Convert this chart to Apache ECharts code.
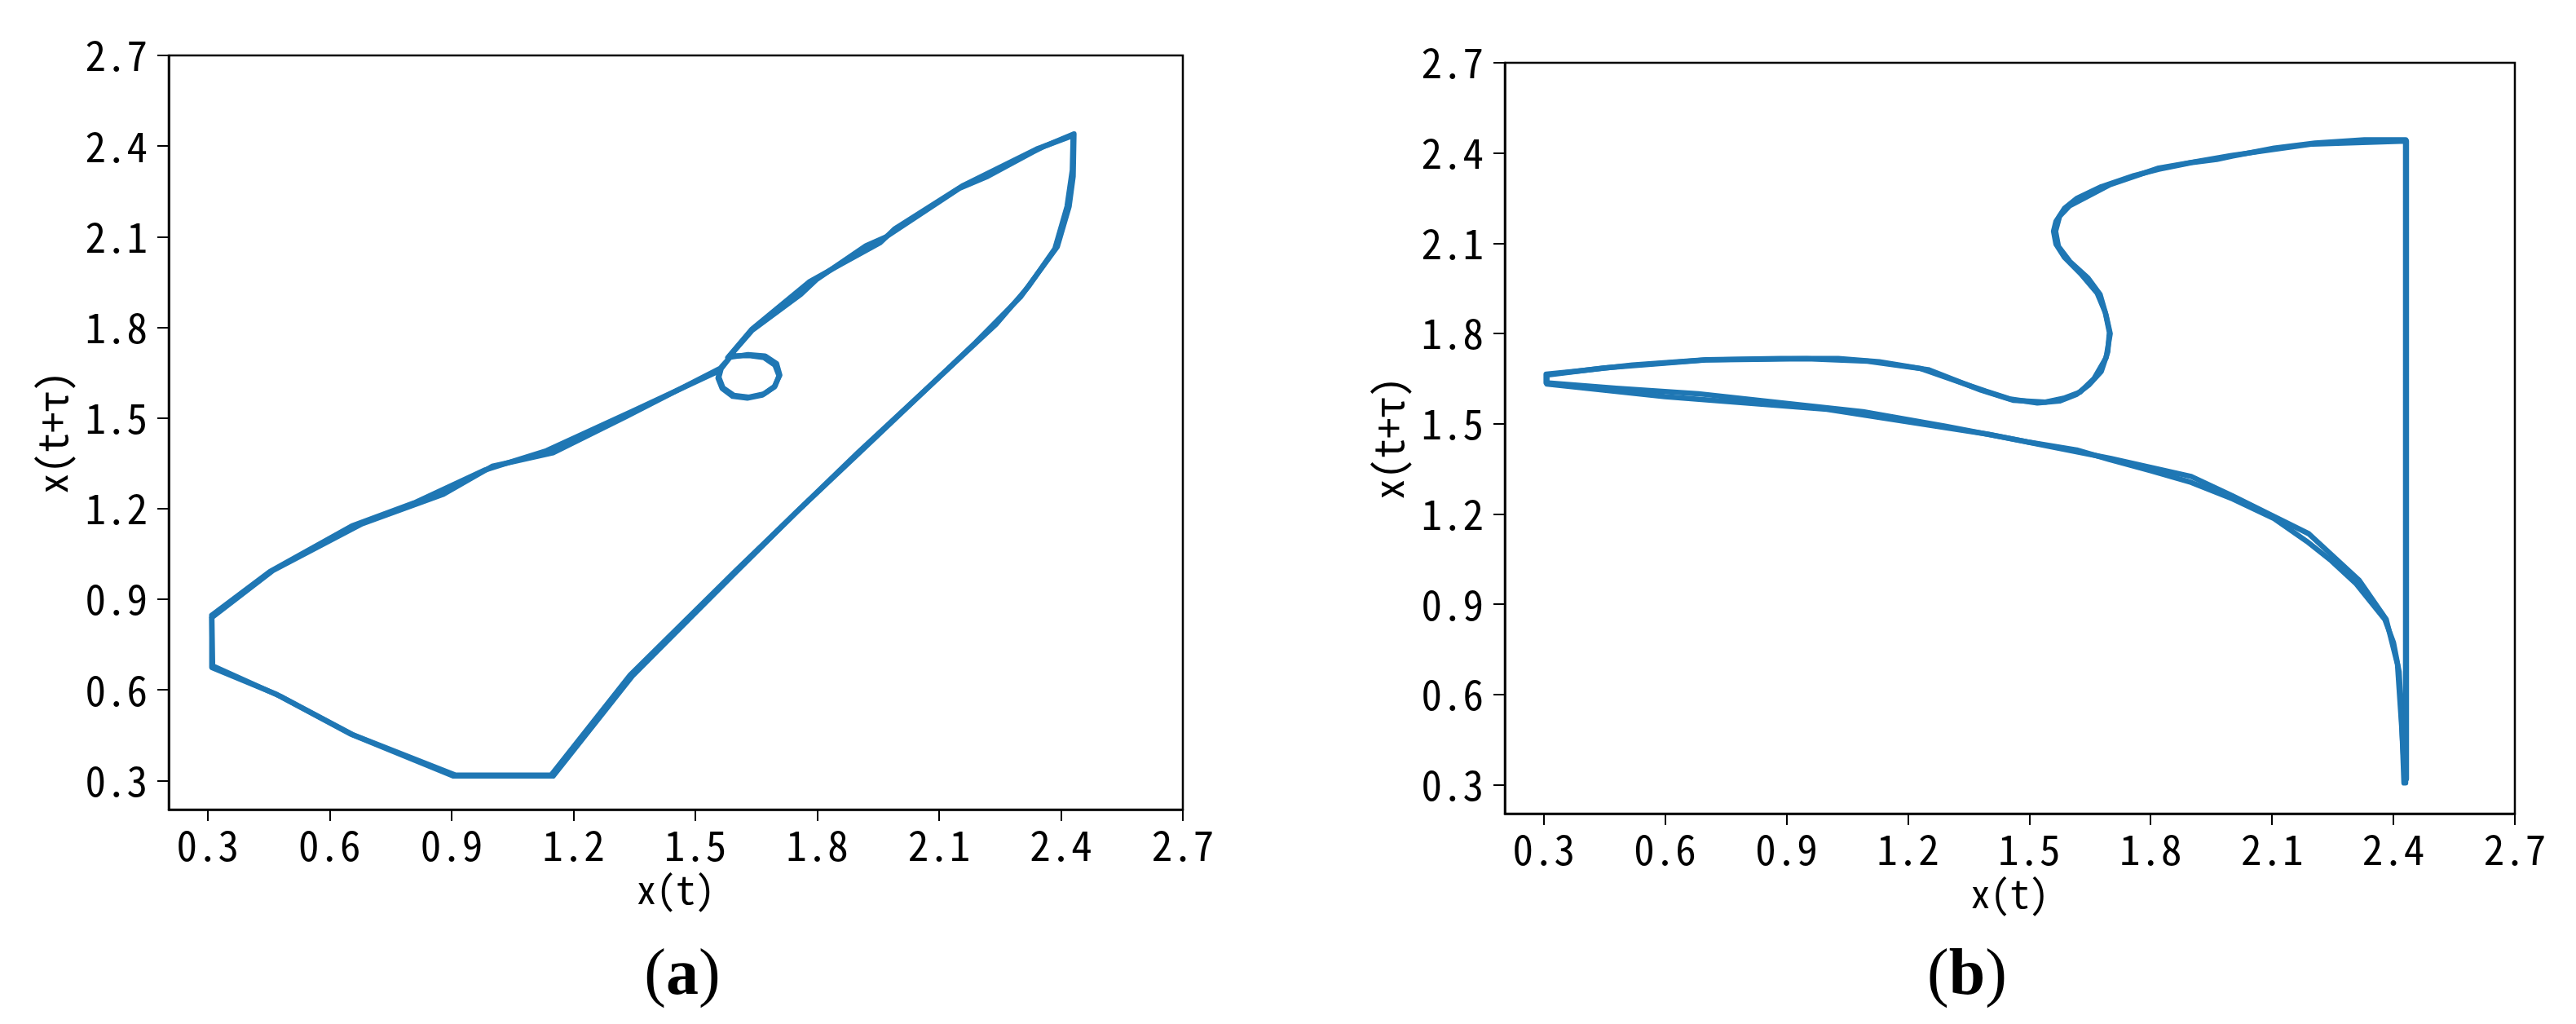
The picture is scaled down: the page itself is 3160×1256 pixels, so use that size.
<!DOCTYPE html>
<html>
<head>
<meta charset="utf-8">
<script src="https://cdn.jsdelivr.net/npm/echarts@6/dist/echarts.min.js"></script>
<style>
html,body{margin:0;padding:0;background:#fff;}
#chart{width:3160px;height:1256px;}
</style>
</head>
<body>
<div id="chart"></div>
<script>
// ---- tick labels / axis range ----
const tickValues = [0.3, 0.6, 0.9, 1.2, 1.5, 1.8, 2.1, 2.4, 2.7];
const axisMin = 0.204;
const axisMax = 2.7;
const xName = 'x(t)';
const yName = 'x(t+τ)';
const panelLabels = ['a', 'b'];

// ---- panel (a): trajectory, pass 1 ----
const aX1 = [0.310, 0.310, 0.470, 0.650, 0.904, 1.150, 1.345, 1.600, 1.750, 1.900, 2.190, 2.300, 2.391, 2.420, 2.430, 2.432,
             2.360, 2.330, 2.220, 2.150, 1.970, 1.920, 1.800, 1.760, 1.640, 1.585,
             1.632, 1.669, 1.696, 1.706, 1.696, 1.669, 1.632, 1.595, 1.568, 1.558, 1.565, 1.585, 1.560,
             1.345, 1.134, 0.980, 0.808, 0.655, 0.453, 0.310];
const aY1 = [0.847, 0.674, 0.585, 0.455, 0.315, 0.315, 0.646, 0.990, 1.190, 1.380, 1.750, 1.900, 2.067, 2.200, 2.300, 2.440,
             2.400, 2.380, 2.300, 2.260, 2.100, 2.070, 1.960, 1.910, 1.790, 1.705,
             1.707, 1.700, 1.675, 1.640, 1.605, 1.580, 1.569, 1.575, 1.600, 1.635, 1.670, 1.700, 1.657,
             1.522, 1.392, 1.327, 1.219, 1.143, 0.992, 0.847];
// ---- panel (a): trajectory, pass 2 ----
const aX2 = [0.310, 0.312, 0.480, 0.660, 0.910, 1.145, 1.340, 1.600, 1.900, 2.240, 2.320, 2.385, 2.415, 2.428, 2.430,
             2.340, 2.250, 2.160, 1.990, 1.955, 1.860, 1.780, 1.640, 1.580,
             1.630, 1.672, 1.700, 1.708, 1.694, 1.665, 1.628, 1.592, 1.566, 1.556, 1.562,
             1.330, 1.150, 1.000, 0.880, 0.680, 0.460, 0.310];
const aY2 = [0.840, 0.680, 0.578, 0.450, 0.318, 0.318, 0.650, 0.995, 1.385, 1.810, 1.935, 2.060, 2.200, 2.320, 2.435,
             2.390, 2.330, 2.270, 2.125, 2.080, 2.010, 1.950, 1.795, 1.700,
             1.710, 1.705, 1.680, 1.642, 1.602, 1.576, 1.566, 1.572, 1.598, 1.632, 1.665,
             1.505, 1.385, 1.340, 1.248, 1.150, 0.995, 0.840];

// ---- panel (b): trajectory, pass 1 ----
const bX1 = [2.430, 2.430, 2.328, 2.206, 2.105, 2.003, 1.963, 1.900, 1.820, 1.759, 1.678, 1.617, 1.587, 1.566, 1.560, 1.566,
             1.587, 1.627, 1.668, 1.688, 1.698, 1.694, 1.678, 1.648, 1.617, 1.576, 1.520, 1.454, 1.393, 1.322, 1.231,
             1.129, 1.028, 0.885, 0.702, 0.519, 0.377, 0.306, 0.306,
             0.479, 0.682, 0.885, 1.089, 1.292, 1.495, 1.617, 1.698, 1.800, 1.900, 2.003, 2.105, 2.186, 2.247, 2.308,
             2.379, 2.400, 2.414, 2.420, 2.426];
const bY1 = [0.306, 2.444, 2.444, 2.433, 2.416, 2.390, 2.379, 2.368, 2.346, 2.325, 2.288, 2.249, 2.216, 2.173, 2.140, 2.097,
             2.053, 1.999, 1.934, 1.869, 1.804, 1.739, 1.674, 1.630, 1.598, 1.576, 1.569, 1.582, 1.608, 1.641, 1.684,
             1.706, 1.717, 1.717, 1.713, 1.695, 1.674, 1.665, 1.636,
             1.618, 1.600, 1.570, 1.540, 1.492, 1.440, 1.413, 1.381, 1.344, 1.305, 1.250, 1.185, 1.109, 1.044, 0.968,
             0.849, 0.773, 0.675, 0.524, 0.306];
// ---- panel (b): trajectory, pass 2 ----
const bX2 = [2.432, 2.432, 2.200, 2.000, 1.820, 1.700, 1.600, 1.575, 1.565, 1.572, 1.600, 1.645, 1.675, 1.690, 1.700,
             1.690, 1.660, 1.625, 1.585, 1.540, 1.460, 1.380, 1.250, 1.100, 0.950, 0.700, 0.450, 0.308, 0.308,
             0.600, 1.000, 1.400, 1.700, 1.900, 2.000, 2.190, 2.315, 2.382, 2.410, 2.420, 2.428];
const bY2 = [0.320, 2.440, 2.430, 2.392, 2.350, 2.295, 2.225, 2.190, 2.140, 2.090, 2.040, 1.985, 1.930, 1.860, 1.800,
             1.720, 1.650, 1.605, 1.585, 1.572, 1.578, 1.612, 1.680, 1.708, 1.716, 1.712, 1.686, 1.662, 1.632,
             1.590, 1.548, 1.465, 1.385, 1.325, 1.262, 1.135, 0.980, 0.850, 0.700, 0.500, 0.320];

function pairs(xs, ys) { return xs.map(function (x, i) { return [x, ys[i]]; }); }

const lineColor = '#1f77b4';
const monoFont = '"Noto Sans Mono CJK SC", "Noto Sans CJK SC", "DejaVu Sans Mono", monospace';
const tickFontSize = 51;

function makeX(gridIndex) {
  return {
    type: 'value', gridIndex: gridIndex, min: axisMin, max: axisMax,
    axisLine: { show: true, onZero: false, lineStyle: { color: '#000', width: 2.5 } },
    axisTick: { show: true, inside: false, length: 14, lineStyle: { color: '#000', width: 2 }, customValues: tickValues },
    axisLabel: { show: true, margin: 18, customValues: tickValues, formatter: function (v) { return v.toFixed(1); },
                 fontSize: tickFontSize, color: '#000', fontFamily: monoFont },
    splitLine: { show: false },
    name: xName, nameLocation: 'middle', nameGap: 74,
    nameTextStyle: { fontSize: 48, color: '#000', fontFamily: monoFont }
  };
}
function makeY(gridIndex) {
  return {
    type: 'value', gridIndex: gridIndex, min: axisMin, max: axisMax,
    axisLine: { show: true, onZero: false, lineStyle: { color: '#000', width: 2.5 } },
    axisTick: { show: true, inside: false, length: 14, lineStyle: { color: '#000', width: 2 }, customValues: tickValues },
    axisLabel: { show: true, margin: 26, customValues: tickValues, formatter: function (v) { return v.toFixed(1); },
                 fontSize: tickFontSize, color: '#000', fontFamily: monoFont },
    splitLine: { show: false },
    name: yName, nameLocation: 'middle', nameGap: 118,
    nameTextStyle: { fontSize: 50, color: '#000', fontFamily: monoFont }
  };
}
function makeSeries(idx, xs, ys) {
  return {
    type: 'line', xAxisIndex: idx, yAxisIndex: idx, data: pairs(xs, ys),
    showSymbol: false, symbol: 'none', smooth: false, silent: true,
    lineStyle: { color: lineColor, width: 6.5, join: 'round', cap: 'round' }
  };
}

const chart = echarts.init(document.getElementById('chart'), null, { renderer: 'canvas' });
chart.setOption({
  animation: false,
  backgroundColor: '#fff',
  grid: [
    { left: 207, top: 68, width: 1244, height: 925, show: true, borderColor: '#000', borderWidth: 2.5, backgroundColor: 'transparent' },
    { left: 1846, top: 77, width: 1239, height: 921, show: true, borderColor: '#000', borderWidth: 2.5, backgroundColor: 'transparent' }
  ],
  xAxis: [makeX(0), makeX(1)],
  yAxis: [makeY(0), makeY(1)],
  series: [
    makeSeries(0, aX1, aY1), makeSeries(0, aX2, aY2),
    makeSeries(1, bX1, bY1), makeSeries(1, bX2, bY2)
  ],
  graphic: [
    { type: 'text', x: 837, y: 1198, style: { text: '{p|(}{b|' + panelLabels[0] + '}{p|)}', align: 'center', verticalAlign: 'middle',
      rich: { p: { fontSize: 80, fontFamily: '"Liberation Serif", serif', fill: '#000' },
              b: { fontSize: 80, fontWeight: 'bold', fontFamily: '"Liberation Serif", serif', fill: '#000' } } } },
    { type: 'text', x: 2413, y: 1198, style: { text: '{p|(}{b|' + panelLabels[1] + '}{p|)}', align: 'center', verticalAlign: 'middle',
      rich: { p: { fontSize: 80, fontFamily: '"Liberation Serif", serif', fill: '#000' },
              b: { fontSize: 80, fontWeight: 'bold', fontFamily: '"Liberation Serif", serif', fill: '#000' } } } }
  ]
});
</script>
</body>
</html>
